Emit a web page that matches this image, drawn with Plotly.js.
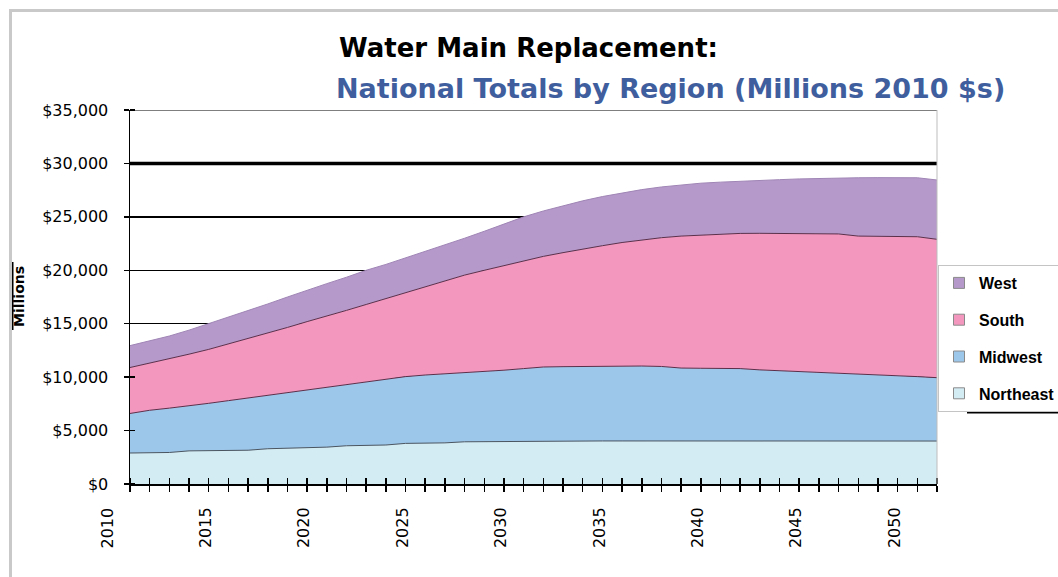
<!DOCTYPE html>
<html>
<head>
<meta charset="utf-8">
<script src="https://cdn.plot.ly/plotly-3.0.1.min.js"></script>
<style>
  html, body { margin: 0; padding: 0; background: #ffffff; }
  #wrap { position: relative; width: 1058px; height: 577px; overflow: hidden; }
  #chart { width: 1058px; height: 577px; }
  #frame { position: absolute; left: 9px; top: 9px; right: 0; bottom: 0;
           border-top: 3px solid #c9c9c9; border-left: 3px solid #c9c9c9; pointer-events: none; }
</style>
</head>
<body>
<div id="wrap">
  <div id="chart"></div>
  <div id="frame"></div>
</div>
<script>
// ---- Data (Millions of 2010 $) ----
const years = [2011, 2012, 2013, 2014, 2015, 2016, 2017, 2018, 2019, 2020,
               2021, 2022, 2023, 2024, 2025, 2026, 2027, 2028, 2029, 2030,
               2031, 2032, 2033, 2034, 2035, 2036, 2037, 2038, 2039, 2040,
               2041, 2042, 2043, 2044, 2045, 2046, 2047, 2048, 2049, 2050,
               2051, 2052];

const northeast = [2900, 2920, 2950, 3100, 3120, 3140, 3160, 3300, 3340, 3360,
                   3450, 3580, 3600, 3650, 3800, 3820, 3850, 3950, 3970, 3990,
                   4020, 4020, 4030, 4030, 4030, 4030, 4030, 4030, 4030, 4030,
                   4030, 4030, 4030, 4030, 4030, 4030, 4030, 4020, 4020, 4020,
                   4020, 4020];

const midwest = [3700, 3980, 4150, 4200, 4430, 4660, 4890, 5000, 5210, 5440,
                 5600, 5720, 5950, 6150, 6250, 6380, 6450, 6450, 6580, 6660,
                 6780, 6930, 6950, 6970, 6990, 7010, 7010, 6970, 6820, 6800,
                 6790, 6770, 6650, 6570, 6490, 6420, 6370, 6330, 6230, 6130,
                 6030, 5930];

const south = [4300, 4400, 4650, 4850, 5050, 5300, 5550, 5850, 6100, 6400,
               6650, 6950, 7250, 7550, 7850, 8250, 8700, 9150, 9450, 9800,
               10100, 10350, 10670, 11000, 11280, 11560, 11810, 12050, 12350, 12470,
               12580, 12650, 12780, 12860, 12930, 13000, 13000, 12850, 12930, 13010,
               13090, 12950];

const west = [2050, 2100, 2100, 2250, 2400, 2500, 2650, 2700, 2850, 2950,
              3050, 3100, 3200, 3200, 3250, 3300, 3400, 3450, 3650, 3850,
              4100, 4250, 4400, 4500, 4600, 4650, 4700, 4750, 4800, 4850,
              4850, 4900, 4940, 5020, 5100, 5150, 5240, 5460, 5490, 5510,
              5520, 5550];

const xLabelYears = [2010, 2015, 2020, 2025, 2030, 2035, 2040, 2045, 2050];
const yTicks = [0, 5000, 10000, 15000, 20000, 25000, 30000, 35000];
const yTickText = ['$0', '$5,000', '$10,000', '$15,000', '$20,000', '$25,000', '$30,000', '$35,000'];

const regionNames = ['Northeast', 'Midwest', 'South', 'West'];
const regionData  = [northeast, midwest, south, west];
const fillColors  = ['#d3ecf4', '#9dc7ea', '#f397be', '#b699cb'];
const lineColors  = ['#4a5560', '#5a2f4a', '#5a2f4a', '#9f85b5'];

const FONT = 'DejaVu Sans, Arial, sans-serif';
const LEGEND_FONT = 'Liberation Sans, Arial, sans-serif';

const traces = [];
for (let i = 0; i < regionNames.length; i++) {
  traces.push({
    type: 'scatter', mode: 'lines', stackgroup: 'one',
    name: regionNames[i], x: years, y: regionData[i],
    fillcolor: fillColors[i],
    line: { color: lineColors[i], width: 1 },
    showlegend: false, hoverinfo: 'x+y+name'
  });
}
// legend entries (small square swatches), West on top
for (let i = regionNames.length - 1; i >= 0; i--) {
  traces.push({
    type: 'scatter', mode: 'markers', name: regionNames[i],
    x: [null], y: [null], legendgroup: regionNames[i],
    marker: { symbol: 'square', size: 11, color: fillColors[i], line: { color: '#8a8a8a', width: 1 } },
    showlegend: true
  });
}

const xTickVals = years.slice();
const xTickText = years.map(y => (xLabelYears.indexOf(y) >= 0 ? String(y) : ''));
const x0 = years[0], x1 = years[years.length - 1];
const paperX = v => (v - x0) / (x1 - x0);

const layout = {
  width: 1058, height: 577,
  margin: { l: 130, r: 121, t: 110, b: 93, autoexpand: false },
  paper_bgcolor: '#ffffff', plot_bgcolor: '#ffffff',
  font: { family: FONT, color: '#000000' },
  title: {
    text: 'Water Main Replacement:',
    font: { family: FONT, size: 26, weight: 700, color: '#000000' },
    xref: 'container', x: 339 / 1058, xanchor: 'left',
    yref: 'container', y: 1 - 48 / 577, yanchor: 'middle'
  },
  showlegend: true,
  legend: {
    xref: 'container', x: 938 / 1058, xanchor: 'left',
    yref: 'container', y: 1 - 265 / 577, yanchor: 'top',
    bgcolor: '#ffffff', bordercolor: '#c4c4c4', borderwidth: 1,
    font: { family: LEGEND_FONT, size: 16, weight: 700, color: '#000000' },
    tracegroupgap: 13, traceorder: 'grouped'
  },
  xaxis: {
    range: [x0, x1], fixedrange: true,
    showgrid: false, zeroline: false,
    showline: true, linecolor: '#000000', linewidth: 2, mirror: false,
    tickmode: 'array', tickvals: xTickVals, ticktext: xTickText,
    ticks: 'outside', ticklen: 6, tickwidth: 1.5, tickcolor: '#000000',
    minor: { tickmode: 'linear', tick0: x0, dtick: 1, ticks: 'inside', ticklen: 6, tickwidth: 1.5, tickcolor: '#000000', showgrid: false },
    tickangle: -90, ticklabelstandoff: 9, ticklabelshift: -3,
    tickfont: { family: FONT, size: 16, color: '#000000' }
  },
  yaxis: {
    range: [0, 35000], fixedrange: true,
    tickmode: 'array', tickvals: yTicks, ticktext: yTickText,
    showgrid: true, gridcolor: '#000000', gridwidth: 1.4,
    zeroline: false,
    showline: true, linecolor: '#000000', linewidth: 1.5,
    ticks: 'outside', ticklen: 5, tickwidth: 1.5, tickcolor: '#000000',
    minor: { tickmode: 'array', tickvals: yTicks, ticks: 'inside', ticklen: 5, tickwidth: 1.5, tickcolor: '#000000', showgrid: false },
    ticklabelstandoff: 12,
    tickfont: { family: FONT, size: 16, color: '#000000' }
  },
  annotations: [
    {
      text: 'National Totals by Region (Millions 2010 $s)',
      xref: 'paper', x: (334 - 130) / 807, xanchor: 'left',
      yref: 'paper', y: (484 - 88) / 374, yanchor: 'middle',
      showarrow: false,
      font: { family: FONT, size: 27, weight: 700, color: '#3f5e9e' }
    },
    {
      text: String(xLabelYears[0]),
      xref: 'paper', x: paperX(xLabelYears[0]), xanchor: 'center', xshift: -3,
      yref: 'paper', y: -0.058, yanchor: 'top',
      textangle: -90, showarrow: false,
      font: { family: FONT, size: 16, color: '#000000' }
    },
    {
      text: 'Millions',
      xref: 'paper', x: (19 - 130) / 807, xanchor: 'center',
      yref: 'paper', y: (484 - 297) / 374, yanchor: 'middle',
      textangle: -90, showarrow: false,
      font: { family: FONT, size: 14, weight: 700, color: '#000000' }
    }
  ],
  shapes: [
    { type: 'line', xref: 'paper', yref: 'y', x0: 0, x1: 1, y0: 30000, y1: 30000,
      line: { color: '#000000', width: 3.5 }, layer: 'below' },
    { type: 'line', xref: 'paper', yref: 'y', x0: 0, x1: 1, y0: 35000, y1: 35000,
      line: { color: '#000000', width: 1 }, layer: 'above' },
    { type: 'line', xref: 'paper', yref: 'paper', x0: 1, x1: 1, y0: 0, y1: 1,
      line: { color: '#bdbdbd', width: 1 }, layer: 'above' },
    { type: 'line', xref: 'paper', yref: 'paper', x0: (967 - 130) / 807, x1: (1058 - 130) / 807,
      y0: (484 - 412) / 374, y1: (484 - 412) / 374,
      line: { color: '#000000', width: 3 }, layer: 'above' },
    { type: 'line', xref: 'paper', yref: 'paper', x0: (12 - 130) / 807, x1: (12 - 130) / 807,
      y0: (484 - 330) / 374, y1: (484 - 262) / 374,
      line: { color: '#000000', width: 3 }, layer: 'above' }
  ]
};

Plotly.newPlot('chart', traces, layout, { displayModeBar: false, staticPlot: true });
</script>
</body>
</html>
